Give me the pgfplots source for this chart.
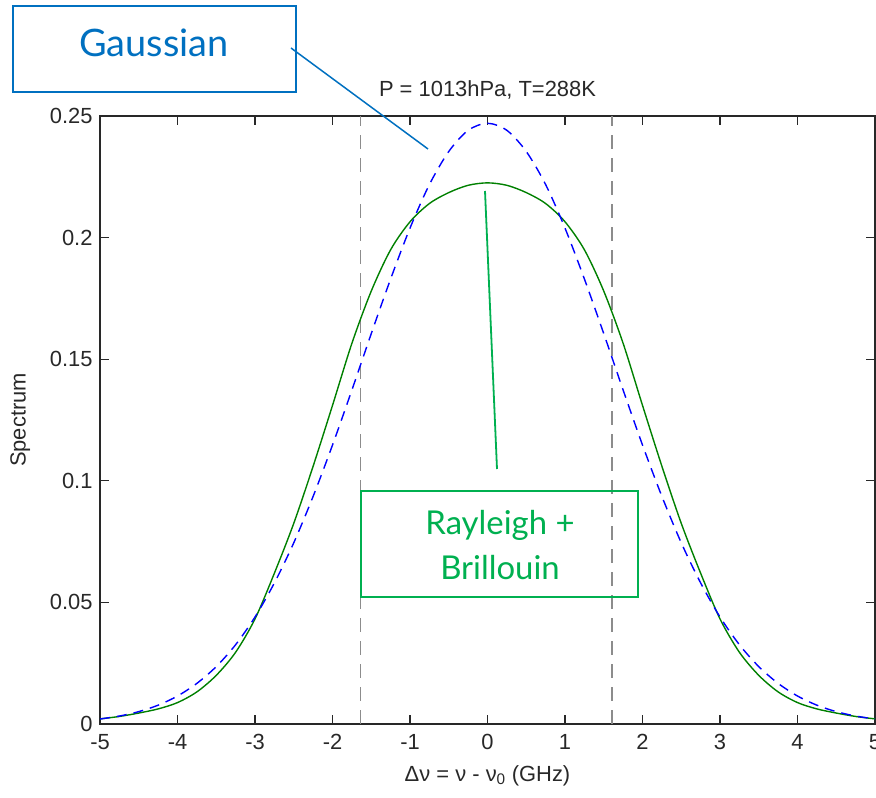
\documentclass[border=0pt]{standalone}
\usepackage{fontspec}
\setmainfont{Liberation Sans}
\newfontfamily\gill{Lato}
\usepackage{pgfplots}
\pgfplotsset{compat=1.18}
\definecolor{gblue}{RGB}{0,112,192}
\definecolor{ggreen}{RGB}{0,176,80}
\definecolor{mblue}{RGB}{0,0,255}
\definecolor{mgreen}{RGB}{0,128,0}
\definecolor{axgray}{RGB}{40,40,40}
\definecolor{vgray}{RGB}{140,140,140}

\pgfplotstableread{
x y
-5 0.0021
-4.75 0.0031
-4.5 0.0045
-4.25 0.0062
-4 0.0088
-3.75 0.0132
-3.5 0.0200
-3.25 0.0295
-3 0.0432
-2.75 0.0620
-2.5 0.0825
-2.25 0.1060
-2 0.1310
-1.75 0.1565
-1.5 0.1780
-1.25 0.1950
-1 0.2065
-0.75 0.2140
-0.5 0.2185
-0.25 0.2215
0 0.2225
0.25 0.2215
0.5 0.2185
0.75 0.2140
1 0.2065
1.25 0.1950
1.5 0.1780
1.75 0.1565
2 0.1310
2.25 0.1060
2.5 0.0825
2.75 0.0620
3 0.0432
3.25 0.0295
3.5 0.0200
3.75 0.0132
4 0.0088
4.25 0.0062
4.5 0.0045
4.75 0.0031
5 0.0021
}\rbtable

\pgfplotstableread{
x y
-5 0.00205
-4.75 0.00327
-4.5 0.00508
-4.25 0.00774
-4 0.0115
-3.75 0.0167
-3.5 0.0236
-3.25 0.0326
-3 0.0440
-2.75 0.0580
-2.5 0.0745
-2.25 0.0936
-2 0.1147
-1.75 0.1373
-1.5 0.1605
-1.25 0.1830
-1 0.2039
-0.75 0.2218
-0.5 0.2354
-0.25 0.2441
0 0.2470
0.25 0.2441
0.5 0.2354
0.75 0.2218
1 0.2039
1.25 0.1830
1.5 0.1605
1.75 0.1373
2 0.1147
2.25 0.0936
2.5 0.0745
2.75 0.0580
3 0.0440
3.25 0.0326
3.5 0.0236
3.75 0.0167
4 0.0115
4.25 0.00774
4.5 0.00508
4.75 0.00327
5 0.00205
}\gausstable

\begin{document}
\begin{tikzpicture}[x=1bp,y=1bp]
\useasboundingbox (0,0) rectangle (876,798);
\begin{axis}[
  at={(100bp,74bp)}, anchor=south west,
  scale only axis, width=775bp, height=608bp,
  xmin=-5, xmax=5, ymin=0, ymax=0.25,
  xtick={-5,-4,-3,-2,-1,0,1,2,3,4,5},
  xticklabels={-5,-4,-3,-2,-1,0,1,2,3,4,5},
  ytick={0,0.05,0.1,0.15,0.2,0.25},
  yticklabels={0,0.05,0.1,0.15,0.2,0.25},
  tick align=inside, tick pos=both, major tick length=9bp,
  axis line style={axgray, line width=1.3bp},
  every tick/.style={axgray, line width=1.3bp},
  tick label style={font=\fontsize{22}{26}\selectfont, text=axgray},
  xticklabel style={yshift=-7bp},
  yticklabel style={xshift=-4bp},
  title={P = 1013hPa, T=288K},
  title style={at={(axis description cs:0.5,1.033)}, anchor=center, font=\fontsize{22}{26}\selectfont, text=axgray},
  xlabel={Δν = ν - ν\textsubscript{0} (GHz)},
  xlabel style={at={(axis description cs:0.5,-0.085)}, anchor=center, font=\fontsize{22}{26}\selectfont, text=axgray},
  ylabel={Spectrum},
  ylabel style={at={(axis description cs:-0.103,0.5)}, anchor=center, font=\fontsize{22}{26}\selectfont, text=axgray},
  clip=false,
]
\addplot[vgray, line width=1.8bp, dash pattern=on 14bp off 9bp] coordinates {(-1.64,0) (-1.64,0.25)};
\addplot[vgray, line width=1.8bp, dash pattern=on 14bp off 9bp] coordinates {(1.61,0) (1.61,0.25)};
\addplot[mgreen, line width=1.4bp, smooth] table[x=x,y=y] {\rbtable};
\addplot[mblue, line width=1.4bp, smooth, dash pattern=on 10bp off 7bp] table[x=x,y=y] {\gausstable};
\end{axis}
% annotations
\draw[gblue, line width=1.5bp] (13,792) rectangle (296,706);
\draw[gblue, line width=1.5bp] (291,750) -- (428,649);
\node[anchor=base, text=gblue, font=\gill\fontsize{38}{42}\selectfont, inner sep=0pt] at (154,741) {Gaussian};
\draw[ggreen, line width=1.8bp] (485,607) -- (497,329);
\draw[ggreen, line width=1.5bp] (361,307) rectangle (638,201);
\node[anchor=base, text=ggreen, font=\gill\fontsize{33}{37}\selectfont, inner sep=0pt] at (500,263) {Rayleigh +};
\node[anchor=base, text=ggreen, font=\gill\fontsize{33}{37}\selectfont, inner sep=0pt] at (500,218) {Brillouin};
\end{tikzpicture}
\end{document}
